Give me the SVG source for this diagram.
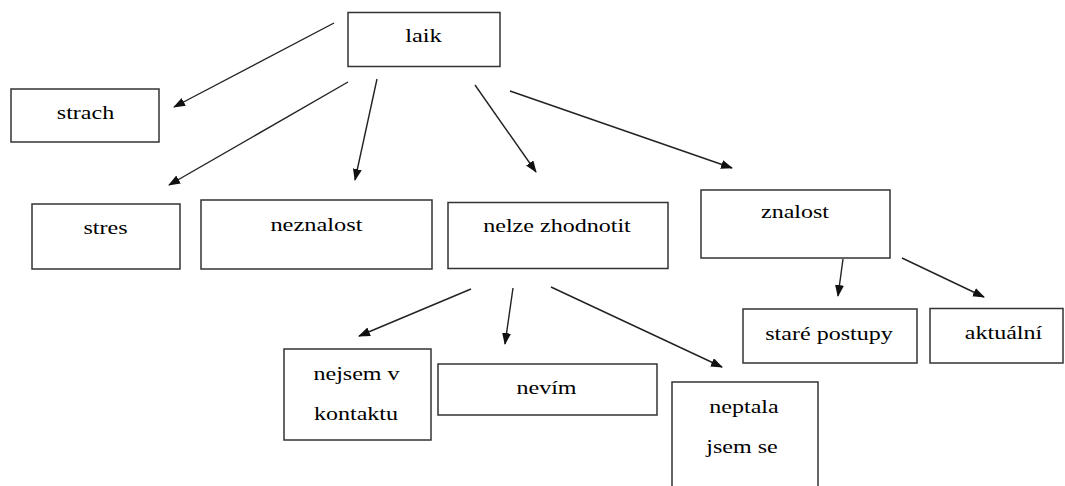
<svg xmlns="http://www.w3.org/2000/svg" width="1065" height="486" viewBox="0 0 1065 486">
  <style>
    .box { fill: #ffffff; stroke: #333333; stroke-width: 1.5; }
    .lbl { font-family: 'Liberation Serif', 'Times New Roman', serif; font-size: 18.5px; fill: #000000; text-anchor: middle; }
    .edge { stroke: #222222; stroke-width: 1.4; fill: none; marker-end: url(#head); }
  </style>
  <defs>
    <marker id="head" markerWidth="12" markerHeight="10" refX="11" refY="4.5" orient="auto" markerUnits="userSpaceOnUse">
      <path d="M0,0 L12,4.5 L0,9 Z" fill="#111111"/>
    </marker>
  </defs>
  <rect width="1065" height="486" fill="#ffffff"/>

  <!-- arrows between the boxes -->
  <g id="connectors">
    <line class="edge" x1="334" y1="23" x2="174" y2="107"/>
    <line class="edge" x1="348" y1="82" x2="169" y2="185"/>
    <line class="edge" x1="377" y1="79" x2="355" y2="180"/>
    <line class="edge" x1="475" y1="85" x2="536" y2="172"/>
    <line class="edge" x1="510" y1="91" x2="732" y2="168"/>
    <line class="edge" x1="471" y1="289" x2="359" y2="336"/>
    <line class="edge" x1="513" y1="288" x2="505" y2="344"/>
    <line class="edge" x1="551" y1="287" x2="722" y2="367"/>
    <line class="edge" x1="843" y1="259" x2="838" y2="296"/>
    <line class="edge" x1="902" y1="258" x2="984" y2="297"/>
  </g>

  <!-- labels are set in a serif face, widened by a horizontal scale -->
  <g id="laik">
    <rect class="box" x="348" y="12.5" width="152" height="54"/>
    <text class="lbl" transform="translate(423.5,42) scale(1.32,1)">laik</text>
  </g>
  <g id="strach">
    <rect class="box" x="11" y="89" width="148" height="53"/>
    <text class="lbl" transform="translate(85.5,119) scale(1.3,1)">strach</text>
  </g>
  <g id="stres">
    <rect class="box" x="32" y="204" width="148" height="65"/>
    <text class="lbl" transform="translate(105.5,234) scale(1.3,1)">stres</text>
  </g>
  <g id="neznalost">
    <rect class="box" x="201" y="200" width="231" height="69"/>
    <text class="lbl" transform="translate(316.5,231) scale(1.32,1)">neznalost</text>
  </g>
  <g id="nelze-zhodnotit">
    <rect class="box" x="448" y="202.5" width="220" height="66"/>
    <text class="lbl" transform="translate(557,232) scale(1.3,1)">nelze zhodnotit</text>
  </g>
  <g id="znalost">
    <rect class="box" x="701" y="190" width="189" height="68"/>
    <text class="lbl" transform="translate(795,218) scale(1.3,1)">znalost</text>
  </g>
  <g id="nejsem-v-kontaktu">
    <rect class="box" x="284" y="349" width="147" height="91"/>
    <text class="lbl" transform="translate(356.5,380) scale(1.3,1)">nejsem v</text>
    <text class="lbl" transform="translate(356,420) scale(1.3,1)">kontaktu</text>
  </g>
  <g id="nevim">
    <rect class="box" x="438" y="364" width="219" height="51"/>
    <text class="lbl" transform="translate(546.5,394) scale(1.3,1)">nevím</text>
  </g>
  <!-- this box runs past the lower edge, so its bottom side is not drawn -->
  <g id="neptala-jsem-se">
    <path class="box" d="M672,490 L672,382 L818,382 L818,490"/>
    <text class="lbl" transform="translate(744,413) scale(1.3,1)">neptala</text>
    <text class="lbl" transform="translate(742,453) scale(1.3,1)">jsem se</text>
  </g>
  <g id="stare-postupy">
    <rect class="box" x="743" y="309" width="174" height="54"/>
    <text class="lbl" transform="translate(829,340) scale(1.3,1)">staré postupy</text>
  </g>
  <g id="aktualni">
    <rect class="box" x="930" y="308.5" width="133" height="54.5"/>
    <text class="lbl" transform="translate(1003.5,339) scale(1.3,1)">aktuální</text>
  </g>
</svg>
